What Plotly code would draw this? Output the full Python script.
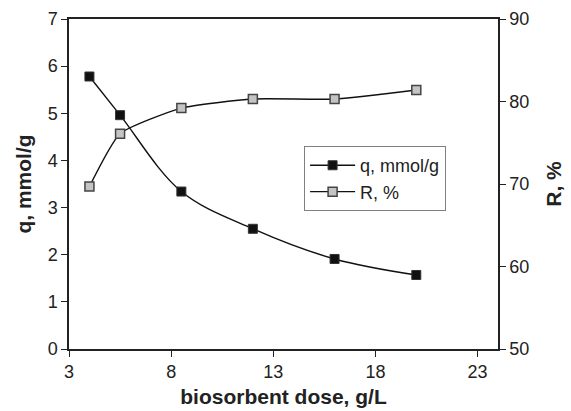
import plotly.graph_objects as go

dose = [4, 5.5, 8.5, 12, 16, 20]
q_vals = [5.78, 4.96, 3.34, 2.55, 1.91, 1.57]
r_vals = [69.7, 76.1, 79.2, 80.3, 80.3, 81.4]

x_ticks = [3, 8, 13, 18, 23]
q_ticks = [0, 1, 2, 3, 4, 5, 6, 7]
r_ticks = [50, 60, 70, 80, 90]

FONT = "Liberation Sans, Arial, sans-serif"

fig = go.Figure()
fig.add_trace(go.Scatter(
    x=dose, y=q_vals, name="q, mmol/g", mode="lines+markers",
    line=dict(color="#111111", width=1.4, shape="spline", smoothing=1.0),
    marker=dict(symbol="square", size=9, color="#111111",
                line=dict(color="#333333", width=1)),
    yaxis="y"))
fig.add_trace(go.Scatter(
    x=dose, y=r_vals, name="R, %", mode="lines+markers",
    line=dict(color="#111111", width=1.4, shape="spline", smoothing=0.5),
    marker=dict(symbol="square", size=9, color="#c4c4c4",
                line=dict(color="#444444", width=1.5)),
    yaxis="y2"))

fig.update_layout(
    width=571, height=411,
    margin=dict(l=69, r=73, t=19, b=62),
    paper_bgcolor="white", plot_bgcolor="white",
    font=dict(family=FONT, size=17, color="#222222"),
    showlegend=True,
    legend=dict(x=0.548, y=0.615, xanchor="left", yanchor="top",
                bordercolor="#808080", borderwidth=1, bgcolor="white",
                font=dict(size=18, family=FONT, color="#222222"),
                itemwidth=45, tracegroupgap=0),
    xaxis=dict(range=[3, 24], tickvals=x_ticks, ticks="outside", ticklen=6,
               tickcolor="#222222", showline=True, linecolor="#222222",
               linewidth=1.5, mirror=True, showgrid=False, zeroline=False,
               tickfont=dict(size=18), automargin=False,
               title=dict(text="<b>biosorbent dose, g/L</b>", standoff=8,
                          font=dict(size=21))),
    yaxis=dict(range=[0, 7], tickvals=q_ticks, ticks="outside", ticklen=6,
               tickcolor="#222222", showline=True, linecolor="#222222",
               linewidth=1.5, showgrid=False, zeroline=False,
               tickfont=dict(size=18), automargin=False,
               title=dict(text="<b>q, mmol/g</b>", standoff=10,
                          font=dict(size=21))),
    yaxis2=dict(range=[50, 90], tickvals=r_ticks, ticks="outside", ticklen=6,
                tickcolor="#222222", overlaying="y", side="right",
                showline=True, linecolor="#222222", linewidth=1.5,
                showgrid=False, zeroline=False, tickfont=dict(size=18),
                automargin=False,
                title=dict(text="<b>R, %</b>", standoff=18,
                           font=dict(size=21))),
)

fig.write_html("out.html")
